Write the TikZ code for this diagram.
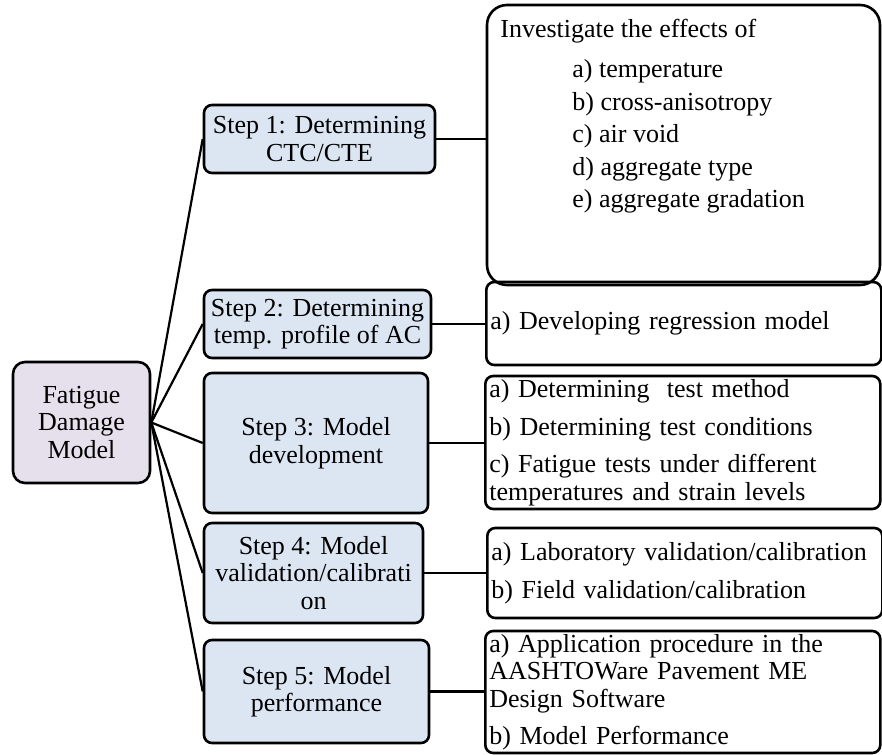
\documentclass[tikz,border=0pt]{standalone}
\usepackage{fontspec}
\setmainfont{Liberation Serif}
\usetikzlibrary{positioning,calc}
\definecolor{stepblue}{RGB}{220,230,242}
\definecolor{rootlilac}{RGB}{229,224,236}

\begin{document}
\begin{tikzpicture}[
  x=0.5pt, y=-0.5pt,
  box/.style={draw, line width=1.3pt, align=center, inner sep=1pt,
              font=\fontsize{13}{13.75}\selectfont},
  stepbox/.style={box, rounded corners=4pt, fill=stepblue},
  itembox/.style={box, rounded corners=4pt, align=left, inner xsep=2pt,
                  text width=193.5pt, anchor=west},
  link/.style={line width=1.1pt}
]
\useasboundingbox (0,0) rectangle (882,754);

\node[box, rounded corners=6pt, fill=rootlilac, minimum width=68.5pt,
      minimum height=60.5pt] (root) at (81.5,422.5) {Fatigue\\Damage\\Model};

% steps
\node[stepbox, minimum width=115.5pt, minimum height=34pt] (s1) at (319.5,139)
  {Step 1: Determining\\CTC/CTE};
\node[stepbox, minimum width=113.5pt, minimum height=34pt] (s2) at (317.5,324)
  {Step 2: Determining\\temp. profile of AC};
\node[stepbox, minimum width=112pt, minimum height=70pt] (s3) at (316,443)
  {Step 3: Model\\development};
\node[stepbox, minimum width=109.5pt, minimum height=50pt] (s4) at (313.5,573)
  {Step 4: Model\\validation/calibrati\\on};
\node[stepbox, minimum width=112.5pt, minimum height=51.5pt] (s5) at (316.5,691.5)
  {Step 5: Model\\performance};

% details
\node[box, rounded corners=10pt, minimum width=196.5pt, minimum height=140pt]
  (r1) at (683.5,145) {};
\node[anchor=north west, align=left, inner sep=0pt,
      font=\fontsize{13}{13.75}\selectfont] (r1text) at (500,19)
  {Investigate the effects of\\[6.25pt]
   \hspace*{36pt}a) temperature\\[2.5pt]
   \hspace*{36pt}b) cross-anisotropy\\[2.5pt]
   \hspace*{36pt}c) air void\\[2.5pt]
   \hspace*{36pt}d) aggregate type\\[2.5pt]
   \hspace*{36pt}e) aggregate gradation};
\node[itembox, minimum height=41.5pt] (r2) at (485,323.5)
  {a) Developing regression model};
\node[itembox, minimum height=66.5pt] (r3) at (484,442.5)
  {a) Determining\ \ test method\\[5pt]
   b) Determining test conditions\\[5pt]
   c) Fatigue tests under different\\temperatures and strain levels};
\node[itembox, minimum height=45pt] (r4) at (486,573)
  {a) Laboratory validation/calibration\\[5pt]
   b) Field validation/calibration};
\node[itembox, minimum height=61pt] (r5) at (484,692)
  {a) Application procedure in the\\AASHTOWare Pavement ME\\Design Software\\[5pt]
   b) Model Performance};

\foreach \i in {1,...,5} {
  \draw[link] (root.east) -- (s\i.west);
  \draw[link] (s\i) -- (s\i -| r\i.west);
}
\end{tikzpicture}
\end{document}
